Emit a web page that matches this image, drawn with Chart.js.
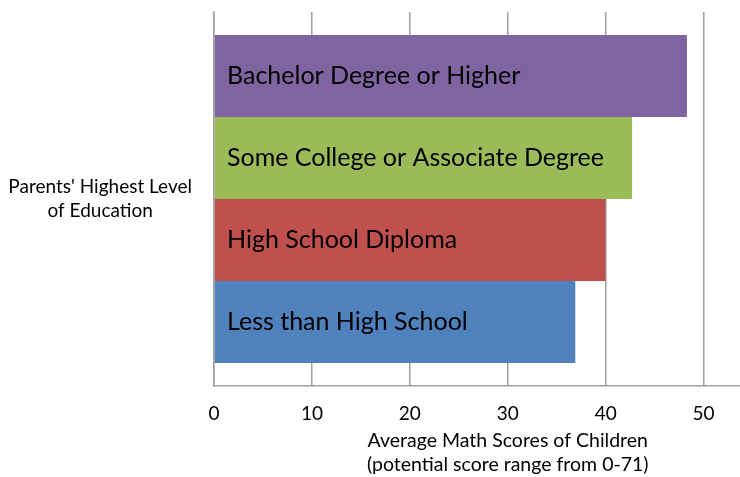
<!DOCTYPE html>
<html>
<head>
<meta charset="utf-8">
<script src="https://cdn.jsdelivr.net/npm/chart.js@4"></script>
<style>
html,body{margin:0;padding:0;background:#fff;overflow:hidden;}
#wrap{width:740px;height:477px;overflow:hidden;position:relative;}
canvas{display:block;}
</style>
</head>
<body>
<div id="wrap"><canvas id="c" width="820" height="477"></canvas></div>
<script>
const categoryLabel = [["Parents' Highest Level", "of Education"]];
const seriesNames = ["Bachelor Degree or Higher", "Some College or Associate Degree", "High School Diploma", "Less than High School"];
const seriesValues = [48.3, 42.7, 40.0, 36.9];
const seriesColors = ["#8064A2", "#9BBB59", "#C0504D", "#4F81BD"];
const xTitle = ["Average Math Scores of Children", "(potential score range from 0-71)"];

const barLabels = {
  id: 'barLabels',
  afterDatasetsDraw(chart) {
    const ctx = chart.ctx;
    ctx.save();
    ctx.font = '25px Lato, "DejaVu Sans", sans-serif';
    ctx.fillStyle = '#000';
    ctx.textBaseline = 'middle';
    ctx.textAlign = 'left';
    chart.data.datasets.forEach((ds, i) => {
      const meta = chart.getDatasetMeta(i);
      meta.data.forEach(el => {
        const left = chart.scales.x.getPixelForValue(0);
        ctx.fillText(ds.label, left + 13, el.y);
      });
    });
    ctx.restore();
  }
};

new Chart(document.getElementById('c'), {
  type: 'bar',
  data: {
    labels: categoryLabel,
    datasets: seriesNames.map((n, i) => ({
      label: n,
      data: [seriesValues[i]],
      backgroundColor: seriesColors[i],
      borderWidth: 0,
      barPercentage: 1,
      categoryPercentage: 0.877
    }))
  },
  options: {
    indexAxis: 'y',
    responsive: false,
    animation: false,
    devicePixelRatio: 1,
    layout: { padding: { top: 12, right: 18.5, left: 0, bottom: 0 } },
    plugins: { legend: { display: false }, tooltip: { enabled: false }, title: { display: false } },
    scales: {
      x: {
        min: 0, max: 60,
        ticks: { stepSize: 10, padding: 16, color: '#000', font: { family: 'Lato', size: 19 } },
        grid: { color: '#a0a0a0', lineWidth: 1.5, tickLength: 0, drawTicks: false },
        border: { color: '#a0a0a0', width: 1.5 },
        title: { display: true, text: xTitle, color: '#000', font: { family: 'Lato', size: 19.5, lineHeight: 1.23 }, padding: { top: 9, bottom: 0 } },
        afterFit(scale) { scale.height = 91; scale.paddingLeft = 0; scale.paddingRight = 0; }
      },
      y: {
        ticks: { color: '#000', crossAlign: 'center', padding: 22, font: { family: 'Lato', size: 19, lineHeight: 1.26 } },
        grid: { display: false, drawTicks: false, tickLength: 0 },
        border: { color: '#a0a0a0', width: 1.5 },
        afterFit(scale) { scale.width = 214; scale.paddingTop = 0; scale.paddingBottom = 0; }
      }
    }
  },
  plugins: [barLabels]
});
</script>
</body>
</html>
